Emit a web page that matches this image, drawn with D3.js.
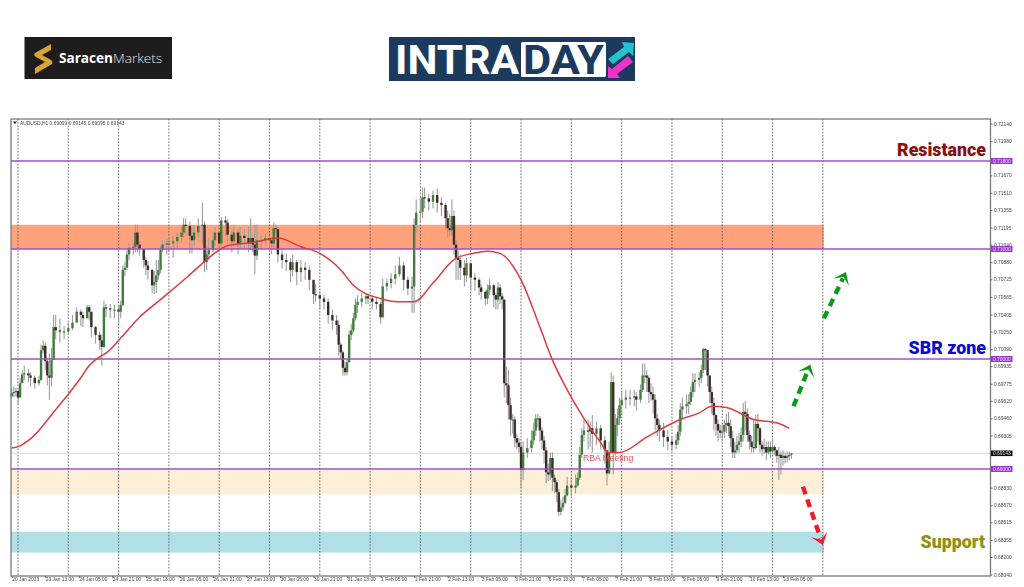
<!DOCTYPE html>
<html><head><meta charset="utf-8">
<style>html,body{margin:0;padding:0;background:#fff;overflow:hidden}svg{display:block;font-family:"Liberation Sans",sans-serif}</style>
<script src="https://cdnjs.cloudflare.com/ajax/libs/d3/7.8.5/d3.min.js"></script>
</head><body><svg id="c" width="1024" height="587"></svg>
<script>
const barHours=[
0,1,2,3,4,5,6,8,9,11,
13,14,15,16,17,18,19,20,21,23,
25,27,29,31,33,34,36,37,38,40,
42,43,44,45,47,49,51,52,53,54,
55,56,58,59,60,61,63,64,65,67,
68,69,70,71,72,74,75,77,79,81,
82,83,85,86,87,89,91,92,93,94,
96,97,99,100,102,103,105,106,108,109,
111,113,114,115,116,117,119,121,123,124,
125,126,127,129,131,133,134,136,138,140,
142,144,145,147,149,151,153,155,156,157,
158,159,160,161,162,163,164,165,167,169,
170,172,174,176,177,179,181,183,185,187,
189,191,192,193,195,196,197,199,201,203,
205,207,208,209,210,211,212,213,214,216,
217,219,221,223,224,226,227,228,230,231,
232,233,234,235,236,237,238,239,240,241,
242,243,244,246,248,249,250,251,252,253,
254,255,256,257,258,259,260,261,262,263,
264,265,267,269,270,271,272,273,275,276,
277,279,281,283,284,285,286,287,288,289,
290,291,293,295,297,298,300,301,302,303,
304,305,306,307,308,309,311,313,315,317,
318,319,320,322,323,324,325,326,328,329,
330,331,332,333,334,335,336,337,338,339,
340,341,342,343,344,345,346,347,348,349,
350,351,352,353,354,355,356,357,358,359,
360,361,362,363,364,365,366,367,368,369,
370,371,372];
const closes=[
.6969,.6970,.6971,.6965,.6978,.6986,.6987,.6985,.6983,.6978,
.6981,.7008,.7012,.6998,.6985,.6983,.6999,.7029,.7026,.7025,
.7025,.7028,.7033,.7043,.7040,.7037,.7047,.7043,.7029,.7022,
.7017,.7011,.7047,.7046,.7045,.7045,.7043,.7049,.7081,.7083,
.7095,.7101,.7102,.7115,.7104,.7100,.7090,.7085,.7081,.7067,
.7070,.7076,.7081,.7099,.7104,.7105,.7105,.7107,.7111,.7115,
.7122,.7121,.7112,.7108,.7115,.7121,.7122,.7088,.7095,.7099,
.7108,.7115,.7105,.7126,.7124,.7113,.7107,.7115,.7105,.7112,
.7110,.7105,.7110,.7104,.7094,.7108,.7108,.7110,.7108,.7105,
.7119,.7118,.7095,.7090,.7088,.7081,.7088,.7079,.7083,.7081,
.7072,.7059,.7058,.7055,.7052,.7040,.7035,.7031,.7013,.7006,
.6992,.6988,.6997,.7022,.7026,.7037,.7049,.7052,.7055,.7057,
.7055,.7052,.7050,.7038,.7066,.7069,.7073,.7077,.7085,.7072,
.7064,.7066,.7122,.7133,.7134,.7147,.7146,.7143,.7149,.7142,
.7140,.7128,.7119,.7117,.7130,.7104,.7092,.7090,.7083,.7076,
.7087,.7074,.7072,.7065,.7061,.7055,.7063,.7067,.7058,.7054,
.7065,.7057,.7054,.6978,.6976,.6958,.6945,.6945,.6928,.6924,
.6920,.6899,.6915,.6919,.6926,.6935,.6946,.6946,.6935,.6926,
.6917,.6897,.6895,.6910,.6892,.6888,.6879,.6861,.6865,.6869,
.6876,.6885,.6883,.6885,.6892,.6913,.6931,.6935,.6934,.6937,
.6932,.6937,.6926,.6917,.6896,.6915,.6979,.6915,.6940,.6946,
.6958,.6963,.6965,.6965,.6966,.6963,.6972,.6985,.6985,.6983,
.6970,.6968,.6963,.6946,.6940,.6935,.6929,.6925,.6922,.6926,
.6934,.6954,.6957,.6959,.6961,.6970,.6979,.6981,.6983,.6990,
.7009,.7008,.6985,.6970,.6960,.6949,.6941,.6935,.6933,.6934,
.6940,.6942,.6939,.6928,.6915,.6917,.6922,.6925,.6931,.6952,
.6950,.6931,.6925,.6920,.6919,.6941,.6937,.6922,.6918,.6920,
.6915,.6920,.6916,.6920,.6917,.6912,.6913,.6910,.6912,.6910,
.6912,.6913,.69143];
const highs=[
.6974,.6975,.6974,.6972,.6983,.6990,.6994,.6991,.6988,.6985,
.6985,.7013,.7017,.7015,.7000,.7005,.7010,.7040,.7040,.7037,
.7030,.7033,.7040,.7047,.7045,.7043,.7049,.7049,.7040,.7030,
.7025,.7022,.7053,.7050,.7050,.7049,.7049,.7053,.7085,.7088,
.7100,.7105,.7106,.7122,.7122,.7107,.7100,.7093,.7089,.7082,
.7080,.7090,.7090,.7103,.7108,.7109,.7110,.7112,.7115,.7120,
.7128,.7128,.7125,.7120,.7122,.7128,.7142,.7125,.7103,.7110,
.7116,.7120,.7112,.7129,.7130,.7127,.7117,.7122,.7118,.7120,
.7118,.7120,.7128,.7112,.7122,.7122,.7114,.7114,.7112,.7110,
.7124,.7122,.7120,.7100,.7096,.7092,.7095,.7090,.7090,.7088,
.7085,.7072,.7068,.7062,.7058,.7055,.7045,.7040,.7035,.7015,
.7008,.6998,.7000,.7026,.7032,.7042,.7055,.7058,.7060,.7060,
.7060,.7058,.7056,.7052,.7073,.7073,.7078,.7085,.7093,.7088,
.7075,.7075,.7128,.7145,.7147,.7156,.7156,.7150,.7153,.7155,
.7147,.7142,.7135,.7132,.7145,.7135,.7108,.7100,.7095,.7090,
.7092,.7088,.7078,.7074,.7068,.7062,.7068,.7073,.7068,.7060,
.7070,.7068,.7060,.7054,.6993,.6990,.6965,.6950,.6948,.6932,
.6928,.6925,.6925,.6928,.6935,.6942,.6950,.6950,.6948,.6938,
.6930,.6920,.6905,.6915,.6915,.6895,.6890,.6882,.6872,.6875,
.6882,.6893,.6890,.6895,.6897,.6920,.6937,.6945,.6945,.6943,
.6949,.6943,.6940,.6930,.6915,.6925,.6988,.6985,.6950,.6955,
.6965,.6970,.6972,.6972,.6972,.6970,.6977,.6996,.6996,.6990,
.6985,.6978,.6975,.6968,.6950,.6945,.6942,.6935,.6930,.6932,
.6940,.6960,.6965,.6968,.6968,.6975,.6987,.6987,.6988,.6995,
.7010,.7010,.7008,.6985,.6975,.6965,.6950,.6945,.6940,.6940,
.6945,.6950,.6952,.6945,.6935,.6925,.6930,.6933,.6938,.6960,
.6962,.6955,.6935,.6930,.6945,.6949,.6950,.6938,.6925,.6928,
.6925,.6925,.6925,.6928,.6922,.6918,.6920,.6916,.6917,.6915,
.6916,.6916,.69145];
const lows=[
.6965,.6965,.6966,.6959,.6970,.6979,.6981,.6979,.6975,.6973,
.6976,.6980,.7005,.6990,.6976,.6963,.6975,.6999,.7018,.7015,
.7018,.7022,.7026,.7035,.7030,.7029,.7037,.7035,.7020,.7014,
.7008,.6994,.7010,.7038,.7037,.7037,.7030,.7037,.7048,.7075,
.7081,.7090,.7095,.7097,.7097,.7094,.7083,.7076,.7072,.7060,
.7059,.7060,.7072,.7078,.7097,.7095,.7097,.7092,.7100,.7105,
.7110,.7112,.7096,.7096,.7103,.7110,.7105,.7079,.7081,.7090,
.7097,.7103,.7097,.7100,.7112,.7105,.7097,.7103,.7095,.7100,
.7100,.7097,.7099,.7097,.7077,.7090,.7100,.7103,.7101,.7095,
.7100,.7108,.7088,.7082,.7080,.7070,.7075,.7067,.7070,.7072,
.7063,.7050,.7052,.7045,.7045,.7032,.7027,.7022,.7003,.7000,
.6985,.6985,.6985,.6997,.7017,.7024,.7035,.7042,.7047,.7050,
.7050,.7045,.7045,.7032,.7037,.7062,.7064,.7068,.7075,.7062,
.7058,.7042,.7042,.7115,.7124,.7128,.7137,.7135,.7137,.7133,
.7130,.7118,.7110,.7112,.7112,.7095,.7072,.7072,.7072,.7066,
.7070,.7062,.7062,.7058,.7054,.7049,.7050,.7058,.7047,.7045,
.7045,.7050,.7045,.6965,.6960,.6945,.6930,.6932,.6920,.6918,
.6915,.6883,.6890,.6910,.6915,.6922,.6930,.6938,.6925,.6918,
.6905,.6887,.6889,.6890,.6880,.6878,.6870,.6857,.6858,.6862,
.6868,.6875,.6875,.6878,.6884,.6890,.6910,.6925,.6918,.6920,
.6915,.6922,.6918,.6905,.6885,.6895,.6915,.6895,.6912,.6930,
.6940,.6950,.6955,.6958,.6957,.6953,.6960,.6970,.6978,.6970,
.6960,.6962,.6950,.6935,.6930,.6925,.6920,.6917,.6916,.6918,
.6922,.6930,.6945,.6950,.6950,.6958,.6965,.6970,.6975,.6978,
.6987,.6990,.6975,.6960,.6950,.6935,.6930,.6925,.6928,.6925,
.6928,.6933,.6930,.6920,.6910,.6910,.6914,.6915,.6920,.6925,
.6935,.6925,.6918,.6915,.6915,.6918,.6925,.6915,.6912,.6914,
.6908,.6913,.6910,.6913,.6912,.6906,.6890,.6895,.6903,.6905,
.6906,.6908,.69095];

const maHours=[0,4,8,11,16,21,27,33,37,42,45.5,52,61,71,84,91,103,115,127,138,147,157,163,176,184,192,201,211.5,220,227,233,243,252,258,265,273,281,284.5,290,303,319,328,334,341,354,365,371];
const maValues=[.6919,.6921,.6926,.6931,.6942,.6954,.6968,.6983,.6994,.7002,.7006,.7019,.7038,.7054,.7075,.7087,.7103,.7106,.7110,.7102,.7096,.7081,.7067,.7055,.7052,.7052,.7069,.7091,.7096,.7098,.7096,.7072,.7029,.6999,.6972,.6946,.6924,.6915,.6915,.6929,.6945,.6951,.6957,.6956,.6945,.6942,.6937];

const levels=[.718,.71,.70,.69];
const levelLabels=["0.71800","0.71000","0.70000","0.69000"];
const lastPrice=.69143;
const lastLabel="0.69143";
const priceTicks=[.7214,.7198,.7167,.7151,.71355,.71195,.7104,.7088,.70725,.70565,.70405,.7025,.7009,.69935,.69775,.6962,.6946,.69305,.6883,.6867,.68515,.68355,.682,.6804];
const timeTickHours=d3.range(0,24).map(i=>i*16);
const timeLabels=["20 Jan 2023","23 Jan 13:00","24 Jan 05:00","24 Jan 21:00","25 Jan 13:00","26 Jan 05:00","26 Jan 21:00","27 Jan 13:00","30 Jan 05:00","30 Jan 21:00","31 Jan 13:00","1 Feb 05:00","1 Feb 21:00","2 Feb 13:00","3 Feb 05:00","3 Feb 21:00","6 Feb 13:00","7 Feb 05:00","7 Feb 21:00","8 Feb 13:00","9 Feb 05:00","9 Feb 21:00","10 Feb 13:00","13 Feb 05:00"];
const gridHours=d3.range(0,17).map(i=>3+i*24);
const zoneTop=[.7122,.6899,.6843];
const zoneBottom=[.7100,.6877,.6824];
const zoneColors=["#ffa27c","#fdeed8","#b0e0e6"];
const zoneEndHour=387.5;
const arrowFromHour=[387.5,373,377.5], arrowFromPrice=[.7037,.6957,.6884];
const arrowToHour=[398,381,387], arrowToPrice=[.7079,.6995,.6831];
const arrowColors=["#0a9a1c","#0a9a1c","#ee1c24"];

const L=11,R=990.5,T=119,B=576;
const x=d3.scaleLinear().domain([0,384]).range([11.7,11.7+384*2.096]);
const y=d3.scaleLinear().domain([.69,.70]).range([469,359]);
const svg=d3.select("#c");
const defs=svg.append("defs");
const blur=defs.append("filter").attr("id","soft").attr("x","-5%").attr("y","-5%").attr("width","110%").attr("height","110%");
blur.append("feGaussianBlur").attr("stdDeviation",.45);
const plot=svg.append("g").attr("filter","url(#soft)");

plot.selectAll(".zone").data(zoneTop).join("rect").attr("x",L).attr("width",x(zoneEndHour)-L)
 .attr("y",d=>y(d)).attr("height",(d,i)=>y(zoneBottom[i])-y(d)).attr("fill",(d,i)=>zoneColors[i]);
plot.selectAll(".gr").data(gridHours).join("line").attr("x1",d=>x(d)).attr("x2",d=>x(d)).attr("y1",T).attr("y2",B)
 .attr("stroke","#555").attr("stroke-width",.9).attr("stroke-dasharray","1.6,1.6");
plot.append("line").attr("x1",L).attr("x2",R).attr("y1",y(lastPrice)).attr("y2",y(lastPrice)).attr("stroke","#d8d8d8");

const bars=d3.range(barHours.length).map(i=>({h:barHours[i],c:closes[i],hi:highs[i],lo:lows[i],o:i?closes[i-1]:closes[i]-.0003}));
plot.append("g").selectAll("line").data(bars).join("line").attr("x1",d=>x(d.h)).attr("x2",d=>x(d.h))
 .attr("y1",d=>y(d.hi)).attr("y2",d=>y(d.lo)).attr("stroke","#9c9c9c").attr("stroke-width",1.1);
plot.append("g").selectAll("rect").data(bars).join("rect").attr("x",d=>x(d.h)-1.2).attr("width",2.4)
 .attr("y",d=>y(Math.max(d.o,d.c))).attr("height",d=>Math.max(1.2,Math.abs(y(d.o)-y(d.c))))
 .attr("fill",d=>d.c>=d.o?"#3f7d3a":"#3d2b2b");

plot.selectAll(".lv").data(levels).join("line").attr("x1",L).attr("x2",R).attr("y1",d=>y(d)).attr("y2",d=>y(d))
 .attr("stroke","#a14fc6").attr("stroke-width",1.7);

plot.append("path").datum(d3.zip(maHours,maValues)).attr("fill","none").attr("stroke","#dc3a40").attr("stroke-width",1.5)
 .attr("d",d3.line().x(d=>x(d[0])).y(d=>y(d[1])).curve(d3.curveMonotoneX));

plot.append("text").attr("x",583).attr("y",461).attr("font-size",8.6).attr("fill","#e8505a").text("RBA Meeting");

plot.append("rect").attr("x",L).attr("y",T).attr("width",R-L).attr("height",B-T).attr("fill","none").attr("stroke","#7a7a7a").attr("stroke-width",1.3);

const yAxis=d3.axisRight(y).tickValues(priceTicks).tickFormat(d3.format(".5f")).tickSize(2).tickPadding(1.5);
const ga=plot.append("g").attr("transform",`translate(${R},0)`).call(yAxis);
ga.select(".domain").remove();
ga.selectAll("text").attr("font-size",4.9).attr("fill","#444").attr("font-family","Liberation Sans");
ga.selectAll("line").attr("stroke","#666");
const xAxis=d3.axisBottom(x).tickValues(timeTickHours).tickFormat((d,i)=>timeLabels[i]).tickSize(2).tickPadding(0);
const gb=plot.append("g").attr("transform",`translate(0,${B})`).call(xAxis);
gb.select(".domain").remove();
gb.selectAll("text").attr("font-size",4.9).attr("fill","#444").attr("text-anchor","start").attr("font-family","Liberation Sans");
gb.selectAll("line").attr("stroke","#666");

const tags=plot.append("g");
levels.forEach((v,i)=>{
 tags.append("rect").attr("x",991).attr("y",y(v)-3).attr("width",21.5).attr("height",6).attr("fill","#9a34d6");
 tags.append("text").attr("x",993).attr("y",y(v)+1.8).attr("font-size",4.9).attr("fill","#f0e4fa").text(levelLabels[i]);
});
tags.append("rect").attr("x",991).attr("y",y(lastPrice)-2.8).attr("width",21.5).attr("height",5.6).attr("fill","#111");
tags.append("text").attr("x",993).attr("y",y(lastPrice)+1.8).attr("font-size",4.9).attr("fill","#ddd").text(lastLabel);

plot.append("path").attr("d","M13 121.5h4l-2 2.4z").attr("fill","#222");
plot.append("text").attr("x",20).attr("y",124.5).attr("font-size",4.9).attr("fill","#444").text("AUDUSD,H1  0.69099 0.69145 0.69095 0.69143");

arrowFromHour.forEach((h,i)=>{
 const x0=x(h),y0=y(arrowFromPrice[i]),x1=x(arrowToHour[i]),y1=y(arrowToPrice[i]);
 const a=Math.atan2(y1-y0,x1-x0),c=arrowColors[i];
 const bx=x1-7*Math.cos(a),by=y1-7*Math.sin(a);
 svg.append("line").attr("x1",x0).attr("y1",y0).attr("x2",bx).attr("y2",by).attr("stroke",c).attr("stroke-width",4.4).attr("stroke-dasharray","8,5.5");
 const s=10,p=(u,v)=>[x1-u*Math.cos(a)+v*Math.sin(a),y1-u*Math.sin(a)-v*Math.cos(a)];
 svg.append("path").attr("d","M"+[p(0,0),p(s+1,s*.85),p(s*.55,0),p(s+1,-s*.85)].map(q=>q.join(",")).join("L")+"Z").attr("fill",c);
});

const lab=[["Resistance",986,156,"#8b0f0f",17.8],["SBR zone",986,354,"#0a0ad0",17.8],["Support",985,548,"#8f8f12",17.8]];
lab.forEach(d=>svg.append("text").attr("x",d[1]).attr("y",d[2]).attr("text-anchor","end").attr("font-family","Roboto").attr("font-weight",900).attr("font-size",d[4]).attr("fill",d[3]).text(d[0]));

svg.append("rect").attr("x",24.5).attr("y",37).attr("width",147.5).attr("height",42).attr("fill","#1e1d1c");
svg.append("path").attr("d","M51 44L51 50L42 55L51 60Q53 61 52 64L35 74L35 68L45 62L36 57Q33 55 35 53Z").attr("fill","#d9a437");
const st=svg.append("text").attr("x",59).attr("y",62.5).attr("font-family","Open Sans").attr("font-size",13.6).attr("fill","#fff");
st.append("tspan").attr("font-weight",700).text("Saracen");
st.append("tspan").attr("font-weight",300).attr("fill","#e4e4e4").text("Markets");

svg.append("rect").attr("x",389).attr("y",37).attr("width",246).attr("height",44).attr("fill","#1c3a5e");
svg.append("rect").attr("x",521).attr("y",42).attr("width",85).attr("height",35).attr("rx",1.5).attr("fill","#fff");
svg.append("text").attr("x",395).attr("y",74).attr("font-family","Roboto").attr("font-weight",700).attr("font-size",41).attr("textLength",124).attr("lengthAdjust","spacingAndGlyphs").attr("fill","#fff").text("INTRA");
svg.append("text").attr("x",523).attr("y",74).attr("font-family","Roboto").attr("font-weight",700).attr("font-size",41).attr("textLength",81).attr("lengthAdjust","spacingAndGlyphs").attr("fill","#1c3a5e").text("DAY");
svg.append("path").attr("d","M622 42L634 43L633 56L629 52L613 64L608 59L624 47Z").attr("fill","#22c3cf");
svg.append("path").attr("d","M620 78L608 78L608 66L612 69L628 56L633 62L617 74Z").attr("fill","#ee33c8");
</script></body></html>
